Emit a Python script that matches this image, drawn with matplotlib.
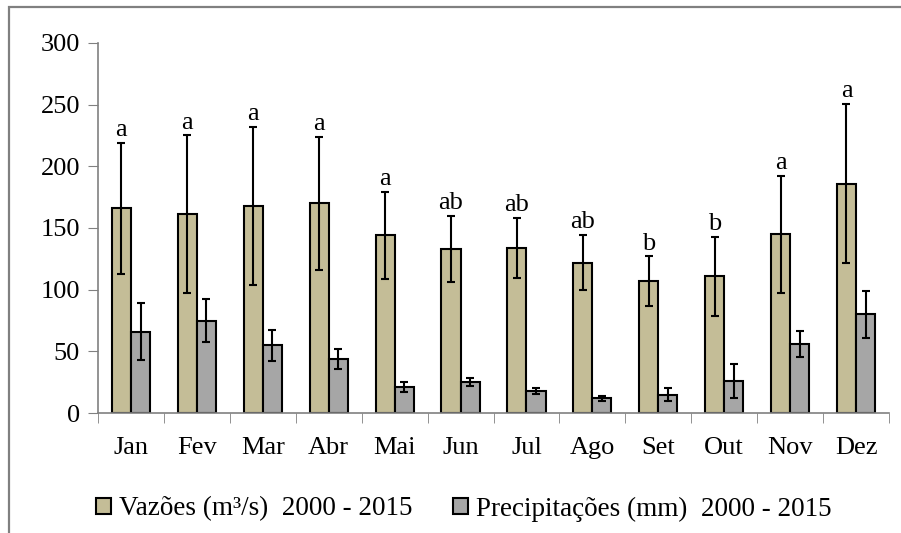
import matplotlib.pyplot as plt
import matplotlib.patches as patches
import numpy as np

plt.rcParams['font.family'] = ['Liberation Serif', 'DejaVu Serif']

# Monthly data
months = ["Jan", "Fev", "Mar", "Abr", "Mai", "Jun", "Jul", "Ago", "Set", "Out", "Nov", "Dez"]
vazao = [166, 161, 168, 170, 144, 133, 134, 122, 107, 111, 145, 186]
vazao_err = [53, 64, 64, 54, 35.5, 26.5, 24.5, 22.5, 20, 32, 47.5, 64.5]
precip = [66, 75, 55, 44, 21, 25, 18, 12, 15, 26, 56, 80]
precip_err = [23, 17.5, 12.5, 8, 4, 3, 2.5, 2, 5, 13.5, 10.5, 19]
letters = ["a", "a", "a", "a", "a", "ab", "ab", "ab", "b", "b", "a", "a"]

fig = plt.figure(figsize=(9.01, 5.33), dpi=100)
ax = fig.add_axes([98/901, 120/533, 791/901, 370/533])

# outer frame (top and left edges visible)
frame = patches.Rectangle((9/901, -0.05), 1.2, 1 - 7/533 + 0.05, transform=fig.transFigure,
                          fill=False, edgecolor="#808080", linewidth=1.6)
fig.patches.append(frame)

x = np.arange(len(months))
w = 0.29
err_kw = dict(ecolor="black", elinewidth=1.5, capsize=3, capthick=1.5)
ax.bar(x - w/2, vazao, w, yerr=vazao_err, color="#C4BD97", edgecolor="black",
       linewidth=1.5, error_kw=err_kw, label="Vazões (m³/s)  2000 - 2015")
ax.bar(x + w/2, precip, w, yerr=precip_err, color="#A6A6A6", edgecolor="black",
       linewidth=1.5, error_kw=err_kw, label="Precipitações (mm)  2000 - 2015")

for i in range(len(months)):
    ax.text(x[i] - w/2, vazao[i] + vazao_err[i] + 1.5, letters[i], ha="center", va="bottom",
            fontsize=19)

ax.set_xlim(-0.5, len(months) - 0.5)
ax.set_ylim(0, 300)
ax.set_yticks(range(0, 301, 50))
ax.set_xticks(x)
ax.set_xticklabels(months)
ax.set_xticks(np.arange(-0.5, len(months), 1), minor=True)
ax.tick_params(axis="x", which="major", length=0, pad=17, labelsize=19)
ax.tick_params(axis="x", which="minor", length=7, color="#808080", direction="out")
ax.tick_params(axis="y", length=7, color="#808080", labelsize=19, pad=6)

for s in ["top", "right"]:
    ax.spines[s].set_visible(False)
for s in ["left", "bottom"]:
    ax.spines[s].set_color("#808080")
    ax.spines[s].set_linewidth(1.2)

fig.legend(loc="center", bbox_to_anchor=(0.515, 0.045), ncol=2, frameon=False,
           fontsize=19.5, handlelength=0.55, handleheight=0.55, handletextpad=0.3,
           columnspacing=1.5)

fig.savefig("out.png", dpi=100)
